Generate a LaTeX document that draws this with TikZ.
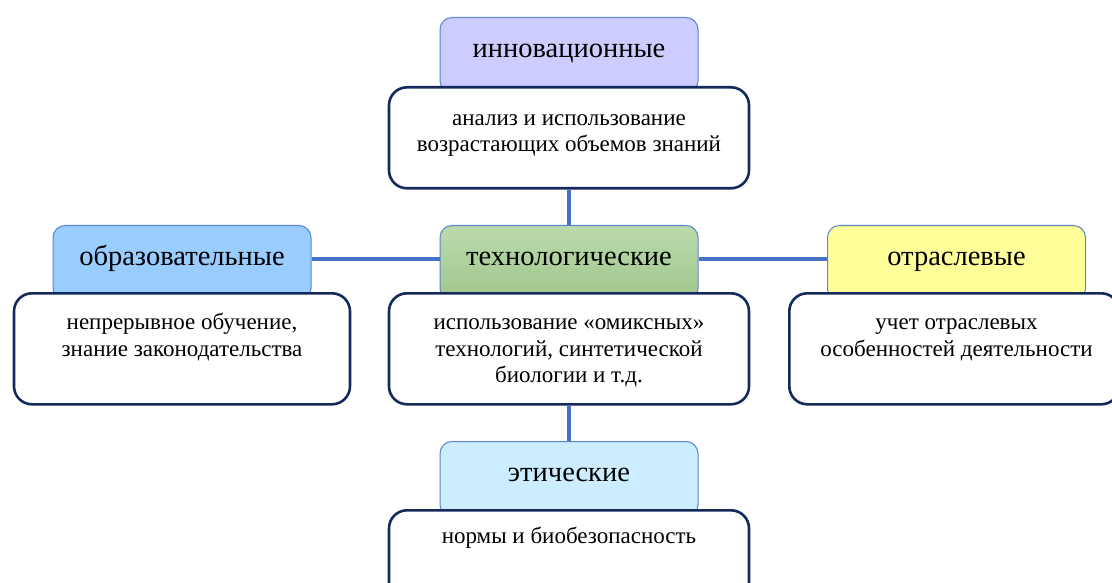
\documentclass[tikz,border=0pt]{standalone}
\usepackage{fontspec}
\setmainfont{Liberation Serif}
\definecolor{linkblue}{HTML}{4472C4}
\definecolor{hdrline}{HTML}{5B85CC}
\definecolor{navy}{HTML}{14295C}
\definecolor{lav}{HTML}{CCCCFF}
\definecolor{edu}{HTML}{99CCFF}
\definecolor{techtop}{HTML}{BBDAAE}
\definecolor{techbot}{HTML}{A0C78B}
\definecolor{ind}{HTML}{FFFF99}
\definecolor{eth}{HTML}{CCECFF}
\begin{document}
\begin{tikzpicture}[x=1pt,y=-1pt,
  hdr/.style={draw=hdrline, line width=1pt, rounded corners=12pt,
    minimum width=258pt, text height=40pt, text depth=35pt, inner sep=0pt,
    font=\fontsize{28.5}{32}\selectfont},
  wbox/.style={draw=navy, line width=2.6pt, fill=white, rounded corners=18pt, inner sep=0pt},
  btext/.style={font=\fontsize{23}{26.5}\selectfont, align=center, anchor=north, inner sep=0pt},
  link/.style={draw=linkblue, line width=4pt}]
\useasboundingbox (0,0) rectangle (1112,583);
\clip (0,0) rectangle (1112,583);
% headers
\node[hdr, fill=lav, anchor=north] (innh) at (569,17) {инновационные};
\node[hdr, fill=edu, anchor=north] (eduh) at (182,225) {образовательные};
\node[hdr, top color=techtop, bottom color=techbot, anchor=north] (techh) at (569,225) {технологические};
\node[hdr, fill=ind, anchor=north] (indh) at (956.5,225) {отраслевые};
\node[hdr, fill=eth, anchor=north] (ethh) at (569,441) {этические};
% white boxes
\node[wbox, minimum width=360pt, minimum height=101pt, anchor=north] (innb) at (569,86) {};
\node[wbox, minimum width=336pt, minimum height=111pt, anchor=north] (edub) at (182,292) {};
\node[wbox, minimum width=360pt, minimum height=111pt, anchor=north] (techb) at (569,292) {};
\node[wbox, minimum width=330pt, minimum height=111pt, anchor=north west] (indb) at (788,292) {};
\node[wbox, minimum width=360pt, minimum height=100pt, anchor=north] (ethb) at (569,509) {};
% texts
\node[btext] (innt) at ([yshift=-20.5pt]innb.north) {\strut анализ и использование\\возрастающих объемов знаний};
\node[btext] (edut) at ([yshift=-19pt]edub.north) {\strut непрерывное обучение,\\знание законодательства};
\node[btext] (techt) at ([yshift=-19pt]techb.north) {\strut использование «омиксных»\\технологий, синтетической\\биологии и т.д.};
\node[btext] (indt) at ([yshift=-19pt]indb.north -| indh.center) {\strut учет отраслевых\\особенностей деятельности};
\node[btext] (etht) at ([yshift=-16pt]ethb.north) {\strut нормы и биобезопасность};
% connectors
\draw[link] (innb.south) -- (techh.north);
\draw[link] (techb.south) -- (ethh.north);
\draw[link] ([yshift=4.5pt]eduh.east) -- ([yshift=4.5pt]techh.west);
\draw[link] ([yshift=4.5pt]techh.east) -- ([yshift=4.5pt]indh.west);
\end{tikzpicture}
\end{document}
